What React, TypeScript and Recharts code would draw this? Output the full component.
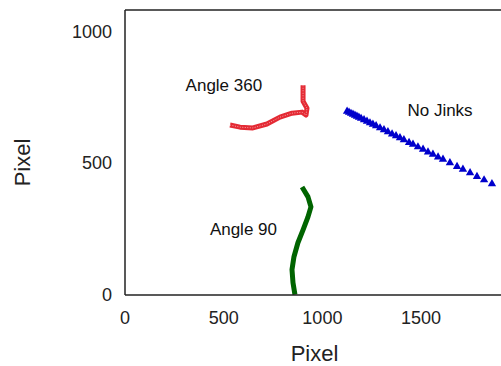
import React from 'react'
import {
  ComposedChart,
  Line,
  Scatter,
  XAxis,
  YAxis,
  ZAxis,
  ReferenceDot,
} from 'recharts'

// Screen coordinates of the tracked object (pixels)
const angle360X = [532, 583, 648, 719, 785, 846, 897, 917, 922, 902, 902, 902]
const angle360Y = [644, 636, 633, 648, 674, 689, 693, 682, 708, 734, 757, 795]

const angle90X = [897, 927, 942, 927, 902, 876, 856, 846, 851, 861]
const angle90Y = [409, 372, 334, 296, 247, 198, 145, 96, 47, 1]

const noJinksX = [
  1125, 1135, 1145, 1155, 1165, 1175, 1185, 1196, 1211, 1226, 1241, 1256, 1272, 1292, 1312, 1332, 1353,
  1373, 1393, 1413, 1439, 1459, 1484, 1510, 1535, 1560, 1586, 1611, 1646, 1682, 1712, 1748, 1783, 1819, 1859,
]
const noJinksY = [
  696, 692, 688, 685, 681, 677, 673, 669, 664, 658, 652, 647, 641, 633, 626, 618, 610,
  603, 596, 588, 578, 571, 561, 552, 542, 533, 523, 514, 501, 487, 476, 463, 449, 436, 421,
]

const xTicks = [0, 500, 1000, 1500]
const yTicks = [0, 500, 1000]
const xDomain = [0, 1920]
const yDomain = [0, 1080]

const annotations = [
  { label: 'Angle 360', x: 501, y: 795 },
  { label: 'No Jinks', x: 1596, y: 700 },
  { label: 'Angle 90', x: 600, y: 251 },
]

const zip = (xs: number[], ys: number[]) => xs.map((x, i) => ({ x, y: ys[i] }))

const angle360 = zip(angle360X, angle360Y)
const angle90 = zip(angle90X, angle90Y)
const noJinks = zip(noJinksX, noJinksY)

const AXIS_COLOR = '#222'
const TICK_COLOR = '#333'
const tickStyle = { fill: '#222', fontSize: 18 }

const YLabel = ({ viewBox }: any) => {
  const cx = viewBox.x + 22
  const cy = viewBox.y + viewBox.height / 2 + 10
  return (
    <text x={cx} y={cy} transform={`rotate(-90 ${cx} ${cy})`} textAnchor="middle" dominantBaseline="central" fill="#222" fontSize={22}>
      Pixel
    </text>
  )
}

export default function App() {
  return (
    <div
      style={{
        position: 'absolute',
        left: 0,
        top: 0,
        width: 501,
        height: 366,
        overflow: 'hidden',
        background: '#fff',
        fontFamily: '"Liberation Sans", Arial, Helvetica, sans-serif',
      }}
    >
      <ComposedChart width={510} height={366} margin={{ top: 10, right: 6, bottom: 0, left: 0 }}>
        {/* main axes with labels */}
        <XAxis
          xAxisId="main"
          dataKey="x"
          type="number"
          domain={xDomain}
          ticks={xTicks}
          allowDataOverflow
          height={71}
          tickLine={false}
          tickSize={0}
          tickMargin={16}
          tick={tickStyle}
          axisLine={{ stroke: AXIS_COLOR, strokeWidth: 1.5 }}
          label={{ value: 'Pixel', position: 'insideBottom', offset: 5, fill: '#222', fontSize: 22 }}
        />
        <YAxis
          yAxisId="main"
          dataKey="y"
          type="number"
          domain={yDomain}
          ticks={yTicks}
          allowDataOverflow
          width={125}
          tickLine={false}
          tickSize={0}
          tickMargin={13}
          tick={tickStyle}
          axisLine={{ stroke: AXIS_COLOR, strokeWidth: 1.5 }}
          label={<YLabel />}
        />

        {/* inward ticks + frame */}
        <XAxis xAxisId="bm" dataKey="x" type="number" domain={xDomain} ticks={xTicks} allowDataOverflow orientation="bottom" mirror height={1} tick={false} tickSize={5} axisLine={false} tickLine={{ stroke: TICK_COLOR }} />
        <XAxis xAxisId="tm" dataKey="x" type="number" domain={xDomain} ticks={xTicks} allowDataOverflow orientation="top" mirror height={1} tick={false} tickSize={5} axisLine={{ stroke: AXIS_COLOR, strokeWidth: 1.5 }} tickLine={{ stroke: TICK_COLOR }} />
        <YAxis yAxisId="lm" dataKey="y" type="number" domain={yDomain} ticks={yTicks} allowDataOverflow orientation="left" mirror width={1} tick={false} tickSize={5} axisLine={false} tickLine={{ stroke: TICK_COLOR }} />
        <YAxis yAxisId="rm" dataKey="y" type="number" domain={yDomain} ticks={yTicks} allowDataOverflow orientation="right" mirror width={1} tick={false} tickSize={5} axisLine={{ stroke: AXIS_COLOR, strokeWidth: 1.5 }} tickLine={{ stroke: TICK_COLOR }} />

        <ZAxis range={[30, 30]} />

        {/* Angle 360 */}
        <Line
          xAxisId="main"
          yAxisId="main"
          data={angle360}
          dataKey="y"
          type="linear"
          stroke="#e42a34"
          strokeWidth={5}
          strokeLinejoin="round"
          dot={false}
          isAnimationActive={false}
        />
        <Line
          xAxisId="main"
          yAxisId="main"
          data={angle360}
          dataKey="y"
          type="linear"
          stroke="#f5a3a7"
          strokeWidth={1}
          strokeDasharray="1 1.5"
          dot={false}
          isAnimationActive={false}
        />

        {/* Angle 90 */}
        <Line
          xAxisId="main"
          yAxisId="main"
          data={angle90}
          dataKey="y"
          type="linear"
          stroke="#006400"
          strokeWidth={5}
          strokeLinejoin="round"
          dot={false}
          isAnimationActive={false}
        />

        {/* No Jinks */}
        <Scatter
          xAxisId="main"
          yAxisId="main"
          data={noJinks}
          shape="triangle"
          fill="#0000cc"
          isAnimationActive={false}
        />

        {annotations.map((a) => (
          <ReferenceDot
            key={a.label}
            xAxisId="main"
            yAxisId="main"
            x={a.x}
            y={a.y}
            r={0}
            stroke="none"
            label={{ value: a.label, position: 'center', fill: '#111', fontSize: 17 }}
          />
        ))}
      </ComposedChart>
    </div>
  )
}
